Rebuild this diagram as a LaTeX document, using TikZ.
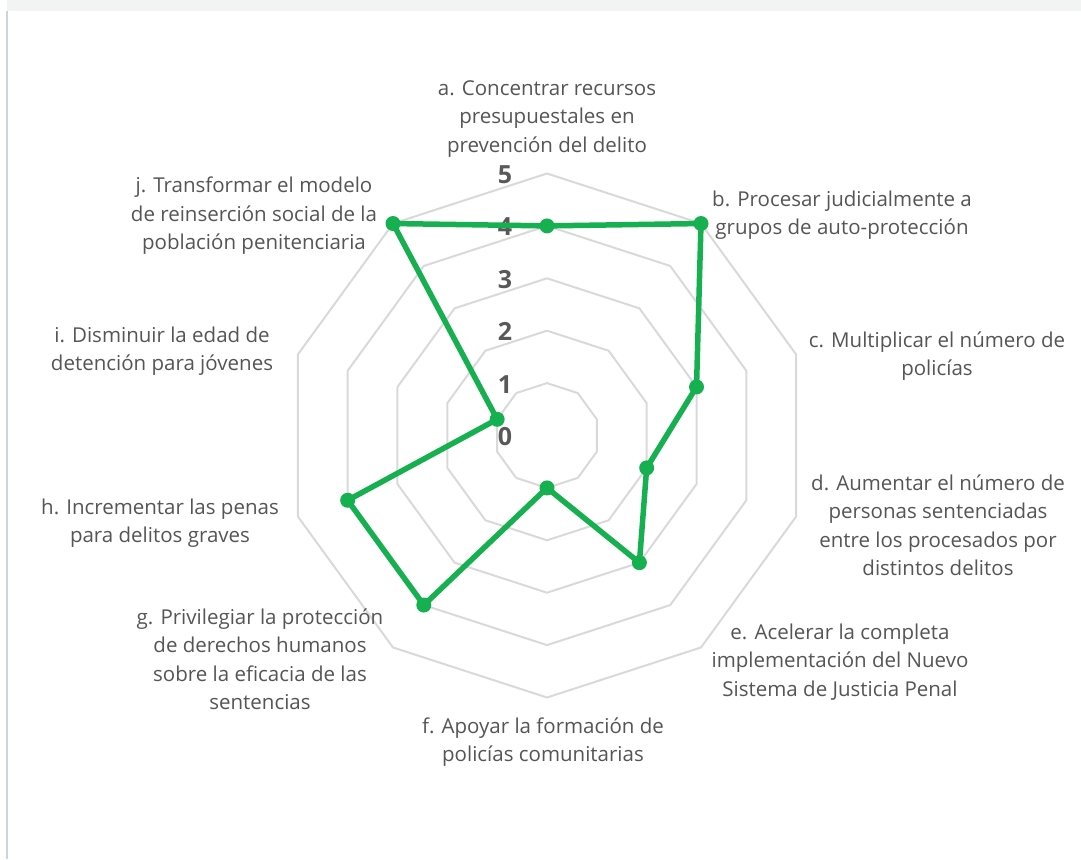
\documentclass[tikz,border=0pt]{standalone}
\usepackage{fontspec}
\setmainfont{Open Sans}
\definecolor{gridc}{HTML}{D9D9D9}
\definecolor{greenc}{RGB}{22,176,80}
\definecolor{txtc}{HTML}{555555}
\definecolor{numc}{HTML}{595959}
\definecolor{barc}{HTML}{F2F4F3}
\definecolor{edgec}{HTML}{C9D5E2}
\begin{document}
\begin{tikzpicture}[x=1pt,y=-1pt,
  gridline/.style={draw=gridc,line width=2pt,line join=round},
  dataline/.style={draw=greenc,line width=5.5pt,line join=round},
  marker/.style={circle,fill=greenc,inner sep=0pt,minimum size=15pt},
  lbl/.style={text=txtc,align=center,font=\fontsize{20.5}{28.5}\selectfont,inner sep=0pt},
  num/.style={text=numc,font=\fontsize{25}{30}\selectfont\bfseries,inner sep=0pt}]
\def\cx{547}
\def\cy{435.5}
\def\u{52.4}
\useasboundingbox (0,0) rectangle (1081,859);
\fill[barc] (7,0) rectangle (1081,11);
\draw[edgec,line width=1.6pt] (7,11) -- (7,859);
% grid rings
\foreach \k in {1,...,5}{
  \draw[gridline] ({\cx},{\cy-\k*\u})
    \foreach \t in {36,72,...,324}{ -- ({\cx+\k*\u*sin(\t)},{\cy-\k*\u*cos(\t)}) } -- cycle;
}
% scale numbers
\foreach \k in {0,...,5}{
  \node[num] (n\k) at (505,{\cy-\k*\u+1}) {\k};
}
% data points
\foreach \n/\t/\v in {pa/0/4,pb/36/5,pc/72/3,pd/108/2,pe/144/3,pf/180/1,pg/216/4,ph/252/4,pi/288/1,pj/324/5}{
  \coordinate (\n) at ({\cx+\v*\u*sin(\t)},{\cy-\v*\u*cos(\t)});
}
\draw[dataline] (pa) -- (pb) -- (pc) -- (pd) -- (pe) -- (pf) -- (pg) -- (ph) -- (pi) -- (pj) -- cycle;
\foreach \n in {pa,pb,pc,pd,pe,pf,pg,ph,pi,pj}{
  \node[marker] (m\n) at (\n) {};
}
% labels
\node[lbl] (la) at (547,119) {a. Concentrar recursos\\presupuestales en\\prevención del delito};
\node[lbl] (lb) at (842,215) {b. Procesar judicialmente a\\grupos de auto-protección};
\node[lbl] (lc) at (937,356) {c. Multiplicar el número de\\policías};
\node[lbl] (ld) at (938,525) {d. Aumentar el número de\\personas sentenciadas\\entre los procesados por\\distintos delitos};
\node[lbl] (le) at (840,662) {e. Acelerar la completa\\implementación del Nuevo\\Sistema de Justicia Penal};
\node[lbl] (lf) at (543,742) {f. Apoyar la formación de\\policías comunitarias};
\node[lbl] (lg) at (260,659) {g. Privilegiar la protección\\de derechos humanos\\sobre la eficacia de las\\sentencias};
\node[lbl] (lh) at (160,523) {h. Incrementar las penas\\para delitos graves};
\node[lbl] (li) at (162,351) {i. Disminuir la edad de\\detención para jóvenes};
\node[lbl] (lj) at (254,216) {j. Transformar el modelo\\de reinserción social de la\\población penitenciaria};
\end{tikzpicture}
\end{document}
